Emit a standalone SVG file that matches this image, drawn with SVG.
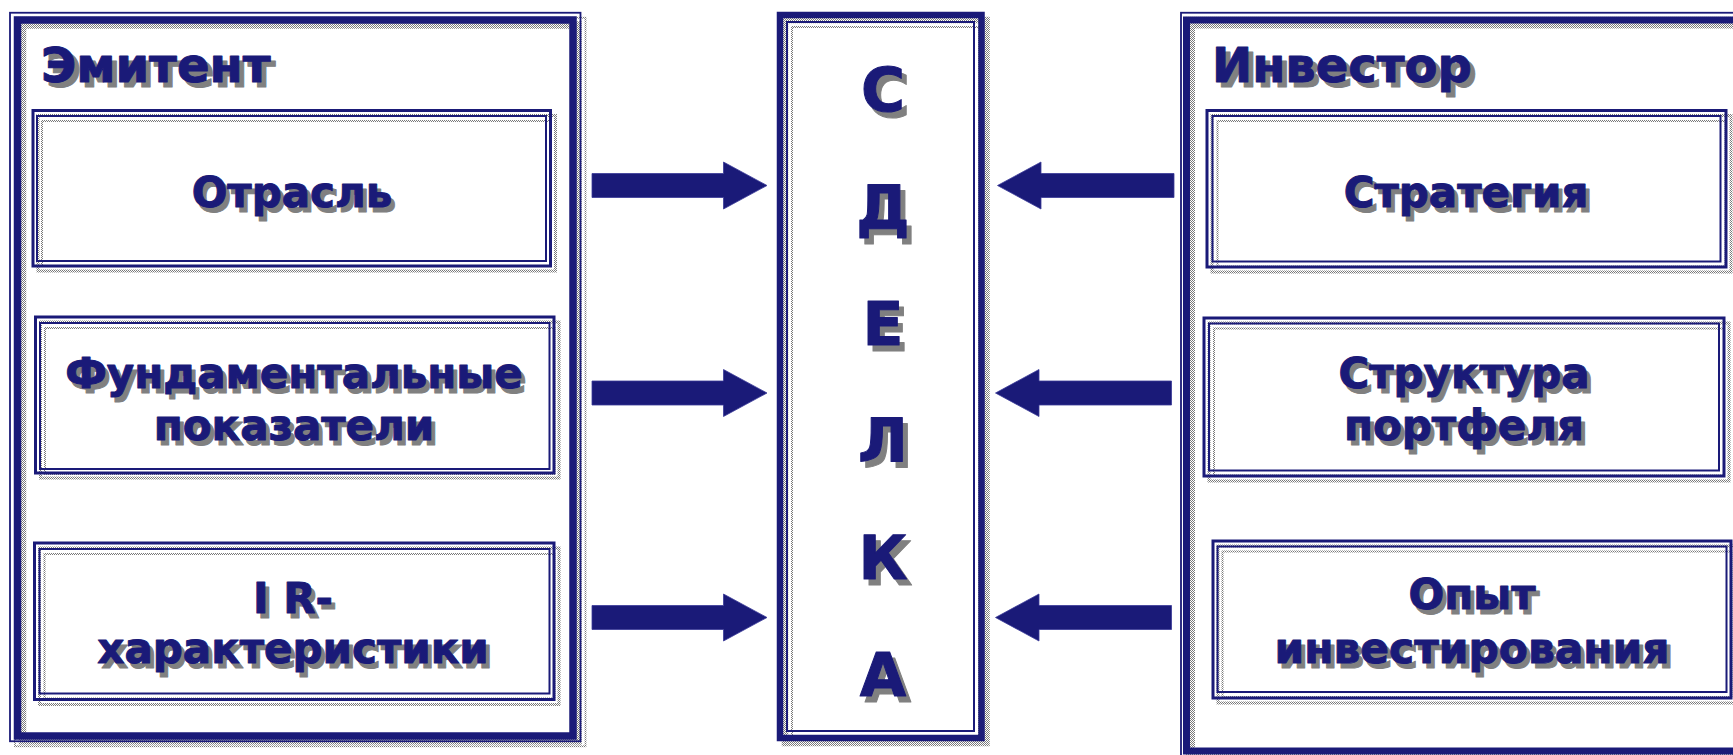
<svg xmlns="http://www.w3.org/2000/svg" width="1733" height="755" viewBox="0 0 1733 755">
<defs>
<pattern id="dots" width="2" height="2" patternUnits="userSpaceOnUse">
<rect x="0" y="0" width="1" height="1" fill="#7a7a7a"/>
<rect x="1" y="1" width="1" height="1" fill="#7a7a7a"/>
</pattern>
<style>
.ln{fill:none;stroke:#1a1a78}
.sh{fill:none;stroke:url(#dots)}
.t{font-family:"DejaVu Sans","Liberation Sans",sans-serif;font-weight:bold;fill:#1a1a78;stroke:#1a1a78;stroke-width:1;stroke-linejoin:round}
.ts{font-family:"DejaVu Sans","Liberation Sans",sans-serif;font-weight:bold;fill:#808080;stroke:#808080;stroke-width:1;stroke-linejoin:round}
.title{font-size:48px}
.lab{font-size:42px;text-anchor:middle}
.big{font-size:60px;text-anchor:middle}
.arr{fill:#1a1a78;stroke:#3a3a98;stroke-width:0.8}
</style>
</defs>
<rect width="1733" height="755" fill="#fff"/>

<g id="emitent">
<g transform="translate(5,5)">
<rect class="sh" x="10" y="12.75" width="570.5" height="728.5" stroke-width="1.8"/>
<rect class="sh" x="17.5" y="20" width="555.5" height="716" stroke-width="7.5"/>
</g>
<rect class="ln" x="10" y="12.75" width="570.5" height="728.5" stroke-width="1.8"/>
<rect class="ln" x="17.5" y="20" width="555.5" height="716" stroke-width="7.5"/>
<text class="ts title" x="46" y="87">Эмитент</text>
<text class="t title" x="41" y="82">Эмитент</text>
</g>

<g id="otrasl">
<g transform="translate(5,5)">
<rect class="sh" x="33" y="110.5" width="517.5" height="155.5" stroke-width="3"/>
<rect class="sh" x="37" y="116" width="509" height="145" stroke-width="2"/>
</g>
<rect class="ln" x="33" y="110.5" width="517.5" height="155.5" stroke-width="3"/>
<rect class="ln" x="37" y="116" width="509" height="145" stroke-width="2"/>
<text class="ts lab" x="296" y="212">Отрасль</text>
<text class="t lab" x="292" y="207">Отрасль</text>
</g>

<g id="fund">
<g transform="translate(5,5)">
<rect class="sh" x="35.5" y="317" width="518.5" height="156" stroke-width="3"/>
<rect class="sh" x="40" y="323" width="509.5" height="146" stroke-width="2"/>
</g>
<rect class="ln" x="35.5" y="317" width="518.5" height="156" stroke-width="3"/>
<rect class="ln" x="40" y="323" width="509.5" height="146" stroke-width="2"/>
<text class="ts lab" x="298" y="393">Фундаментальные</text>
<text class="t lab" x="294" y="388">Фундаментальные</text>
<text class="ts lab" x="298" y="445">показатели</text>
<text class="t lab" x="294" y="440">показатели</text>
</g>

<g id="ir">
<g transform="translate(5,5)">
<rect class="sh" x="34.5" y="543" width="519.5" height="156.5" stroke-width="3"/>
<rect class="sh" x="39.5" y="549" width="510" height="144.5" stroke-width="2"/>
</g>
<rect class="ln" x="34.5" y="543" width="519.5" height="156.5" stroke-width="3"/>
<rect class="ln" x="39.5" y="549" width="510" height="144.5" stroke-width="2"/>
<text class="ts lab" x="297" y="618">I R-</text>
<text class="t lab" x="293" y="613">I R-</text>
<text class="ts lab" x="297" y="668">характеристики</text>
<text class="t lab" x="293" y="663">характеристики</text>
</g>

<g id="sdelka">
<g transform="translate(5,5)">
<rect class="sh" x="780" y="15" width="201.5" height="723" stroke-width="6.5"/>
<rect class="sh" x="787" y="22" width="187" height="709" stroke-width="2"/>
</g>
<rect class="ln" x="780" y="15" width="201.5" height="723" stroke-width="6.5"/>
<rect class="ln" x="787" y="22" width="187" height="709" stroke-width="2"/>
<text class="ts big" x="888" y="117">С</text>
<text class="t big" x="883" y="111">С</text>
<text class="ts big" x="888" y="234">Д</text>
<text class="t big" x="883" y="228">Д</text>
<text class="ts big" x="888" y="351">Е</text>
<text class="t big" x="883" y="345">Е</text>
<text class="ts big" x="888" y="468">Л</text>
<text class="t big" x="883" y="462">Л</text>
<text class="ts big" x="888" y="585">К</text>
<text class="t big" x="883" y="579">К</text>
<text class="ts big" x="888" y="702">А</text>
<text class="t big" x="883" y="696">А</text>
</g>

<g id="investor">
<g transform="translate(5,5)">
<rect class="sh" x="1181" y="12.75" width="600" height="750" stroke-width="1.8"/>
<rect class="sh" x="1186.5" y="20" width="600" height="731" stroke-width="7"/>
</g>
<rect class="ln" x="1181" y="12.75" width="600" height="750" stroke-width="1.8"/>
<rect class="ln" x="1186.5" y="20" width="600" height="731" stroke-width="7"/>
<text class="ts title" x="1217" y="87">Инвестор</text>
<text class="t title" x="1212" y="82">Инвестор</text>
</g>

<g id="strategiya">
<g transform="translate(5,5)">
<rect class="sh" x="1207" y="110.5" width="519" height="156.5" stroke-width="3"/>
<rect class="sh" x="1212.5" y="116" width="508" height="145.5" stroke-width="2"/>
</g>
<rect class="ln" x="1207" y="110.5" width="519" height="156.5" stroke-width="3"/>
<rect class="ln" x="1212.5" y="116" width="508" height="145.5" stroke-width="2"/>
<text class="ts lab" x="1470" y="212">Стратегия</text>
<text class="t lab" x="1466" y="207">Стратегия</text>
</g>

<g id="struktura">
<g transform="translate(5,5)">
<rect class="sh" x="1204" y="318" width="520" height="158" stroke-width="3"/>
<rect class="sh" x="1209" y="323.5" width="510" height="147" stroke-width="2"/>
</g>
<rect class="ln" x="1204" y="318" width="520" height="158" stroke-width="3"/>
<rect class="ln" x="1209" y="323.5" width="510" height="147" stroke-width="2"/>
<text class="ts lab" x="1468" y="393">Структура</text>
<text class="t lab" x="1464" y="388">Структура</text>
<text class="ts lab" x="1468" y="445">портфеля</text>
<text class="t lab" x="1464" y="440">портфеля</text>
</g>

<g id="opyt">
<g transform="translate(5,5)">
<rect class="sh" x="1213" y="541" width="518" height="157" stroke-width="3"/>
<rect class="sh" x="1217.5" y="546.5" width="509" height="145.5" stroke-width="2"/>
</g>
<rect class="ln" x="1213" y="541" width="518" height="157" stroke-width="3"/>
<rect class="ln" x="1217.5" y="546.5" width="509" height="145.5" stroke-width="2"/>
<text class="ts lab" x="1476" y="614">Опыт</text>
<text class="t lab" x="1472" y="609">Опыт</text>
<text class="ts lab" x="1476" y="668" textLength="395" lengthAdjust="spacingAndGlyphs">инвестирования</text>
<text class="t lab" x="1472" y="663" textLength="395" lengthAdjust="spacingAndGlyphs">инвестирования</text>
</g>

<g id="connectors">
<path class="arr" d="M592,173.5 H723.5 V162 L767,185.5 L723.5,209 V197.5 H592 Z"/>
<path class="arr" d="M592,381 H723.5 V369.5 L767,393 L723.5,416.5 V405 H592 Z"/>
<path class="arr" d="M592,605.5 H723.5 V594 L767,617.5 L723.5,641 V629.5 H592 Z"/>
<path class="arr" d="M1174,173.5 H1041 V162 L997.5,185.5 L1041,209 V197.5 H1174 Z"/>
<path class="arr" d="M1171.5,381 H1039 V369.5 L995.5,393 L1039,416.5 V405 H1171.5 Z"/>
<path class="arr" d="M1171.5,605.5 H1039 V594 L995.5,617.5 L1039,641 V629.5 H1171.5 Z"/>
</g>
</svg>
